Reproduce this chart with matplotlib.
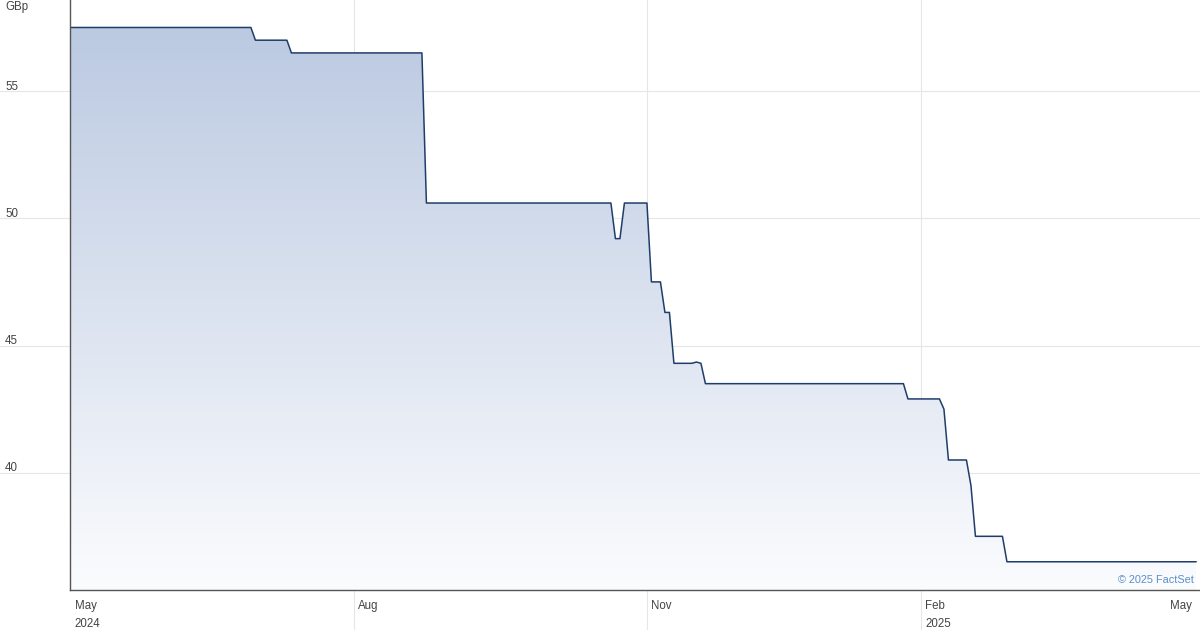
import numpy as np
import matplotlib
matplotlib.use("Agg")
import matplotlib.pyplot as plt
from matplotlib.colors import LinearSegmentedColormap
import matplotlib.transforms as mtransforms

plt.rcParams['font.family'] = ['Liberation Sans', 'DejaVu Sans']

# trading-session index and closing price (GBp)
sessions = [0, 40, 41, 48, 49, 78, 79, 120, 121, 122, 123, 128, 129, 131, 132, 133,
            134, 138, 139, 140, 141, 185, 186, 193, 194, 195, 199, 200, 201, 207, 208, 250]
prices = [57.5, 57.5, 57.0, 57.0, 56.5, 56.5, 50.6, 50.6, 49.2, 49.2, 50.6, 50.6,
          47.5, 47.5, 46.3, 46.3, 44.3, 44.3, 44.35, 44.3, 43.5, 43.5, 42.9, 42.9,
          42.5, 40.5, 40.5, 39.5, 37.5, 37.5, 36.5, 36.5]

month_pos = [0, 63, 128, 189]
month_labels = ["May", "Aug", "Nov", "Feb"]
year_labels = ["2024", "", "", "2025"]
y_ticks = [40, 45, 50, 55]

fig = plt.figure(figsize=(12, 6.3), dpi=100)
ax = fig.add_axes([70 / 1200, 40 / 630, 1130 / 1200, 590 / 630])
ymin, ymax = 35.39, 58.58
xmin, xmax = -0.2, 250.9
ax.set_xlim(xmin, xmax)
ax.set_ylim(ymin, ymax)

# gradient fill under the line
cmap = LinearSegmentedColormap.from_list("g", ["#fbfcfe", "#b8c7e0"])
grad = np.linspace(0, 1, 256).reshape(-1, 1)
im = ax.imshow(grad, cmap=cmap, aspect="auto", origin="lower",
               extent=[xmin, xmax, ymin, ymax], zorder=1)
poly = ax.fill_between(sessions, prices, ymin, color="none", lw=0)
path = poly.get_paths()[0]
im.set_clip_path(path, transform=ax.transData)

ax.plot(sessions, prices, color="#1f3d6b", lw=1.1, zorder=3)

txt_color = "#444444"
fs = 8.3
grid_color = "#e6e6e6"

# horizontal grid spanning whole figure width
ht = mtransforms.blended_transform_factory(fig.transFigure, ax.transData)
for v in y_ticks:
    ax.plot([-70 / 1130, 1], [v, v], transform=mtransforms.blended_transform_factory(ax.transAxes, ax.transData),
            color=grid_color, lw=0.8, clip_on=False, zorder=0)
    fig.text(5 / 1200, v, str(v), fontsize=fs, color=txt_color, ha="left", va="baseline",
             transform=ht + mtransforms.ScaledTranslation(0, 1.5 / 100, fig.dpi_scale_trans))

# vertical grid extending into the label area
bt = mtransforms.blended_transform_factory(ax.transData, ax.transAxes)
off = mtransforms.ScaledTranslation(4 / 100, 0, fig.dpi_scale_trans)
for p, m, yl in zip(month_pos, month_labels, year_labels):
    if p > 0:
        ax.plot([p, p], [-40 / 590, 1], transform=bt, color=grid_color, lw=0.8,
                clip_on=False, zorder=0)
    ax.text(p, -16 / 590, m, transform=bt + off,
            fontsize=fs, color=txt_color, ha="left", va="center")
    if yl:
        ax.text(p, -34 / 590, yl, transform=bt + off,
                fontsize=fs, color=txt_color, ha="left", va="center")
fig.text(1192 / 1200, 1 - 606 / 630, "May", fontsize=fs, color=txt_color, ha="right", va="center")

fig.text(5 / 1200, 1 - 7 / 630, "GBp", fontsize=fs, color=txt_color, ha="left", va="center")
fig.text(1194 / 1200, 1 - 580 / 630, "© 2025 FactSet", fontsize=7.8, color="#5a8ec8",
         ha="right", va="center")

for s in ["top", "right"]:
    ax.spines[s].set_visible(False)
for s in ["left", "bottom"]:
    ax.spines[s].set_color("#555555")
    ax.spines[s].set_linewidth(1.0)
    ax.spines[s].set_zorder(4)
ax.set_xticks([])
ax.set_yticks([])

fig.savefig("out.png", dpi=100)
